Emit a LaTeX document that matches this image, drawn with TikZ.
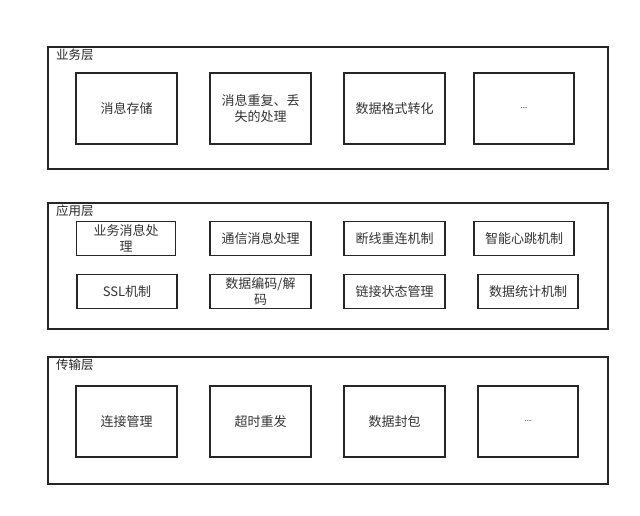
\documentclass[tikz,border=0pt]{standalone}
\usepackage{fontspec}
\setmainfont{Noto Sans CJK SC}
\begin{document}
\begin{tikzpicture}[x=1pt,y=-1pt,
  layer/.style={draw=black!85,line width=1.2pt},
  item/.style={draw=black!85,line width=1.2pt,align=center,font=\fontsize{13}{15.5}\selectfont,text=black!80},
  lbl/.style={anchor=north west,inner sep=0pt,font=\fontsize{12.5}{14}\selectfont,text=black!85}]
\useasboundingbox (0,0) rectangle (640,516);
% layer 1
\draw[layer] (48,47) rectangle (608,169);
\node[lbl] (l1) at (56,49) {业务层};
\node[item,minimum width=101pt,minimum height=71pt] (a1) at (126.5,108.5) {消息存储};
\node[item,minimum width=101pt,minimum height=71pt] (a2) at (260.5,108.5) {消息重复、丢\\失的处理};
\node[item,minimum width=101pt,minimum height=71pt] (a3) at (394.5,108.5) {数据格式转化};
\node[item,minimum width=100pt,minimum height=71pt] (a4) at (524,108.5) {\fontsize{8}{9}\selectfont ...};
% layer 2
\draw[layer] (48,203) rectangle (608,329);
\node[lbl] (l2) at (56,205) {应用层};
\node[item,minimum width=99pt,minimum height=34pt,inner sep=0pt] (b1) at (126,238.5) {业务消息处\\理};
\node[item,minimum width=101pt,minimum height=34pt] (b2) at (260.5,238.5) {通信消息处理};
\node[item,minimum width=101pt,minimum height=34pt] (b3) at (394.5,238.5) {断线重连机制};
\node[item,minimum width=100pt,minimum height=34pt] (b4) at (524,238.5) {智能心跳机制};
\node[item,minimum width=100pt,minimum height=34pt] (c1) at (127,291.5) {SSL机制};
\node[item,minimum width=101pt,minimum height=34pt,inner sep=0pt] (c2) at (260.5,291.5) {数据编码/解\\码};
\node[item,minimum width=101pt,minimum height=34pt] (c3) at (394.5,291.5) {链接状态管理};
\node[item,minimum width=100pt,minimum height=34pt] (c4) at (528,291.5) {数据统计机制};
% layer 3
\draw[layer] (48,357) rectangle (608,484);
\node[lbl] (l3) at (56,359) {传输层};
\node[item,minimum width=101pt,minimum height=71pt] (d1) at (126.5,421.5) {连接管理};
\node[item,minimum width=101pt,minimum height=71pt] (d2) at (260.5,421.5) {超时重发};
\node[item,minimum width=101pt,minimum height=71pt] (d3) at (394.5,421.5) {数据封包};
\node[item,minimum width=100pt,minimum height=71pt] (d4) at (528,421.5) {\fontsize{8}{9}\selectfont ...};
\end{tikzpicture}
\end{document}
